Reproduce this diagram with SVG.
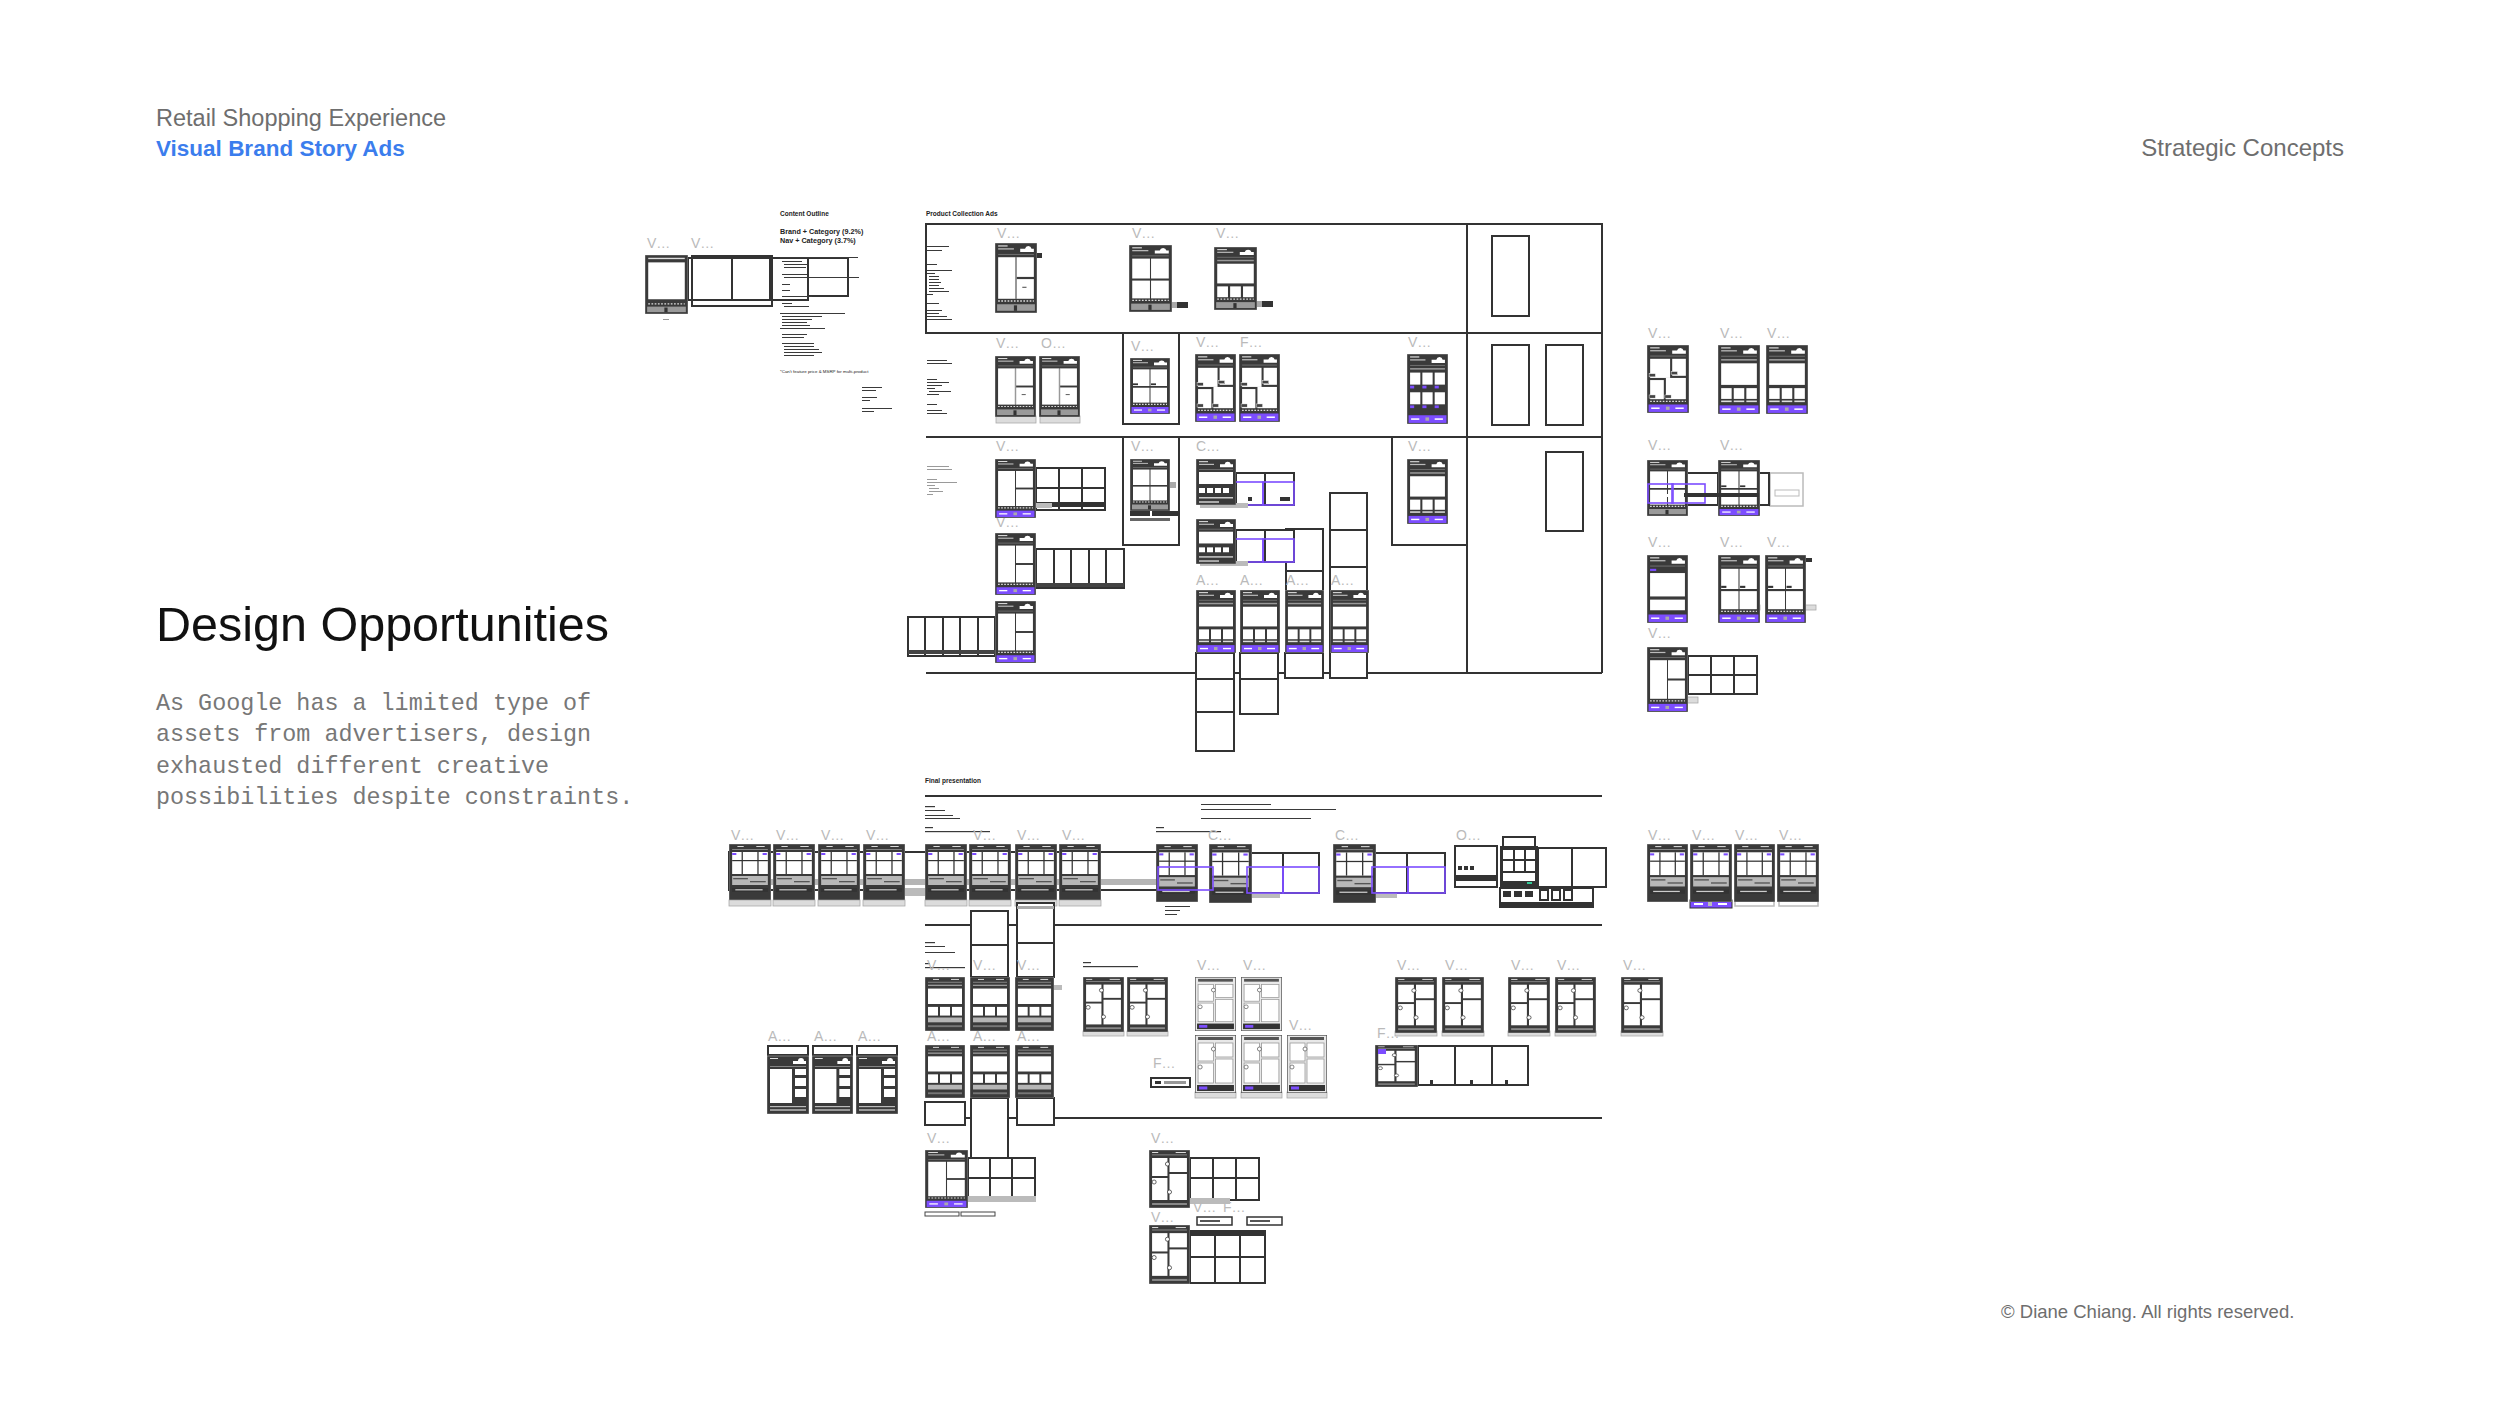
<svg xmlns="http://www.w3.org/2000/svg" width="2500" height="1406" viewBox="0 0 2500 1406">
<style>
text{font-family:"Liberation Sans",Arial,sans-serif}
.lb{font-size:14px;fill:#bababa}
.fr{fill:#fff;stroke:#333;stroke-width:2}
.fo{fill:none;stroke:#333;stroke-width:2}
.ln{stroke:#333;stroke-width:2;fill:none}
.pf{fill:none;stroke:#7c4dff;stroke-width:1.6}
.gb{fill:#dcdcdc;stroke:#aaa;stroke-width:.8}
.gf{fill:#fff;stroke:#bbb;stroke-width:1.5}
.tx{fill:#3a3a3a}
.tg{fill:#9a9a9a}
.pb{fill:#3a3a3a;stroke:#aaa;stroke-width:.6}
.w{fill:#fff}
.sm{font-weight:bold;fill:#222}
.mono{font-family:"Liberation Mono","DejaVu Sans Mono",monospace;font-size:23.4px;fill:#777}
</style>
<defs>
<g id="hd"><rect x="3" y="2.2" width="9" height="1" fill="#eee"/><rect x="3" y="4.8" width="15" height="1.2" fill="#bbb"/><path d="M24 8.2h13v-3h-2.2a3.2 3.2 0 0 0-6.2 0H24z" fill="#fff"/><rect x="3" y="10" width="34" height=".8" fill="#777"/></g>
<g id="ftP"><rect x="1.5" y="56" width="37" height="7" fill="#7c4dff"/><rect x="4" y="58.8" width="8" height="1.4" fill="#fff"/><rect x="18" y="58" width="3.5" height="3" fill="#aaa"/><rect x="27" y="58.8" width="8" height="1.4" fill="#fff"/></g>
<g id="ftG"><rect x="2" y="56" width="36" height="6" fill="#9a9a9a"/><rect x="18" y="57" width="3" height="5" fill="#333"/></g>
<g id="dots"><line x1="3" y1="53" x2="37" y2="53" stroke="#ddd" stroke-width="1.2" stroke-dasharray="1.6 1.4"/></g>
<symbol id="pGrid" viewBox="0 0 40 64" preserveAspectRatio="none"><rect class="pb" width="40" height="64"/><use href="#hd"/><rect class="w" x="3" y="13" width="16.5" height="19"/><rect class="w" x="20.5" y="13" width="16.5" height="19"/><rect class="w" x="3" y="34" width="16.5" height="17"/><rect class="w" x="20.5" y="34" width="16.5" height="17"/><use href="#dots"/><use href="#ftG"/></symbol>
<symbol id="pGridP" viewBox="0 0 40 64" preserveAspectRatio="none"><rect class="pb" width="40" height="64"/><use href="#hd"/><rect class="w" x="3" y="13" width="16.5" height="19"/><rect class="w" x="20.5" y="13" width="16.5" height="19"/><rect class="w" x="3" y="34" width="16.5" height="17"/><rect class="w" x="20.5" y="34" width="16.5" height="17"/><rect x="3" y="29" width="5" height="2" fill="#333"/><rect x="21" y="29" width="5" height="2" fill="#333"/><use href="#dots"/><use href="#ftP"/></symbol>
<symbol id="pTall" viewBox="0 0 40 64" preserveAspectRatio="none"><rect class="pb" width="40" height="64"/><use href="#hd"/><rect class="w" x="3" y="13" width="16.5" height="38"/><rect class="w" x="20.5" y="13" width="16.5" height="18"/><rect class="w" x="20.5" y="33" width="16.5" height="18"/><rect x="19.3" y="13" width="1.4" height="38" fill="#999"/><rect x="26" y="40" width="4" height="1" fill="#555"/><use href="#dots"/><use href="#ftG"/></symbol>
<symbol id="pTallP" viewBox="0 0 40 64" preserveAspectRatio="none"><rect class="pb" width="40" height="64"/><use href="#hd"/><rect class="w" x="3" y="13" width="16.5" height="38"/><rect class="w" x="20.5" y="13" width="16.5" height="18"/><rect class="w" x="20.5" y="33" width="16.5" height="18"/><use href="#dots"/><use href="#ftP"/></symbol>
<symbol id="pHero" viewBox="0 0 40 64" preserveAspectRatio="none"><rect class="pb" width="40" height="64"/><use href="#hd"/><rect x="3" y="13" width="34" height="1.5" fill="#999"/><rect class="w" x="3" y="17" width="34" height="20"/><rect class="w" x="3" y="40" width="10" height="11"/><rect class="w" x="15" y="40" width="10" height="11"/><rect class="w" x="27" y="40" width="10" height="11"/><use href="#dots"/><use href="#ftG"/></symbol>
<symbol id="pHeroP" viewBox="0 0 40 64" preserveAspectRatio="none"><rect class="pb" width="40" height="64"/><use href="#hd"/><rect x="3" y="13" width="34" height="1.5" fill="#999"/><rect class="w" x="3" y="17" width="34" height="20"/><rect class="w" x="3" y="40" width="10" height="10"/><rect class="w" x="15" y="40" width="10" height="10"/><rect class="w" x="27" y="40" width="10" height="10"/><rect x="3" y="51.5" width="10" height="1.5" fill="#ddd"/><rect x="15" y="51.5" width="10" height="1.5" fill="#ddd"/><rect x="27" y="51.5" width="10" height="1.5" fill="#ddd"/><use href="#ftP"/></symbol>
<symbol id="pMosP" viewBox="0 0 40 64" preserveAspectRatio="none"><rect class="pb" width="40" height="64"/><use href="#hd"/><rect class="w" x="3" y="13" width="19" height="18"/><rect class="w" x="24" y="13" width="13" height="16"/><rect class="w" x="3" y="33" width="13" height="18"/><rect class="w" x="18" y="31" width="19" height="20"/><rect x="2" y="27" width="6" height="3" fill="#444" stroke="#fff" stroke-width=".4"/><rect x="23" y="25" width="6" height="3" fill="#444" stroke="#fff" stroke-width=".4"/><rect x="2" y="47" width="6" height="3" fill="#444" stroke="#fff" stroke-width=".4"/><rect x="17" y="47" width="6" height="3" fill="#444" stroke="#fff" stroke-width=".4"/><use href="#dots"/><use href="#ftP"/></symbol>
<symbol id="p32P" viewBox="0 0 40 64" preserveAspectRatio="none"><rect class="pb" width="40" height="64"/><use href="#hd"/><rect x="3" y="13" width="34" height="1.2" fill="#aaa"/><rect class="w" x="3" y="17" width="10" height="11"/><rect class="w" x="15" y="17" width="10" height="11"/><rect class="w" x="27" y="17" width="10" height="11"/><rect x="3" y="29" width="4" height="2.5" fill="#7c4dff"/><rect x="15" y="29" width="4" height="2.5" fill="#7c4dff"/><rect x="27" y="29" width="4" height="2.5" fill="#7c4dff"/><rect class="w" x="3" y="35" width="10" height="11"/><rect class="w" x="15" y="35" width="10" height="11"/><rect class="w" x="27" y="35" width="10" height="11"/><rect x="3" y="47" width="4" height="2.5" fill="#7c4dff"/><rect x="15" y="47" width="4" height="2.5" fill="#7c4dff"/><rect x="27" y="47" width="4" height="2.5" fill="#7c4dff"/><use href="#ftP"/></symbol>
<symbol id="pPlainP" viewBox="0 0 40 64" preserveAspectRatio="none"><rect class="pb" width="40" height="64"/><use href="#hd"/><rect x="3" y="13" width="6" height="2" fill="#7c4dff"/><rect class="w" x="3" y="17" width="34" height="22"/><rect class="w" x="3" y="42" width="34" height="10"/><use href="#ftP"/></symbol>
<symbol id="pPlain" viewBox="0 0 40 64" preserveAspectRatio="none"><rect class="pb" width="40" height="64"/><rect x="3" y="3" width="34" height="1.5" fill="#ddd"/><rect class="w" x="3" y="8" width="34" height="40"/><use href="#dots"/><use href="#ftG"/></symbol>
<symbol id="pFP" viewBox="0 0 40 56" preserveAspectRatio="none"><rect class="pb" width="40" height="56"/><rect x="8" y="2" width="6" height="1" fill="#ddd"/><rect x="26" y="2" width="8" height="1" fill="#ddd"/><rect x="3" y="5" width="34" height=".8" fill="#999"/><rect class="w" x="3" y="8" width="34" height="22"/><rect x="3" y="9" width="4" height="2" fill="#7c4dff"/><rect x="32" y="9" width="4" height="2" fill="#7c4dff"/><rect x="3" y="16" width="34" height="1.2" fill="#333"/><rect x="12" y="8" width="1.2" height="22" fill="#333"/><rect x="27" y="8" width="1.2" height="22" fill="#333"/><rect x="3" y="32" width="34" height="9" fill="#b8b8b8"/><rect x="4" y="34" width="14" height="1.3" fill="#555"/><rect x="20" y="37" width="15" height="1.3" fill="#555"/><rect x="3" y="44" width="34" height="4" fill="#333"/><rect x="6" y="45.2" width="26" height="1.2" fill="#ccc"/></symbol>
<symbol id="pFP2" viewBox="0 0 40 56" preserveAspectRatio="none"><rect class="pb" width="40" height="56"/><rect x="8" y="2" width="6" height="1" fill="#ddd"/><rect x="26" y="2" width="8" height="1" fill="#ddd"/><rect x="3" y="5" width="34" height=".8" fill="#999"/><rect x="3" y="8" width="34" height="1.2" fill="#aaa"/><rect class="w" x="3" y="12" width="34" height="16"/><rect class="w" x="3" y="31" width="10" height="9"/><rect class="w" x="15" y="31" width="10" height="9"/><rect class="w" x="27" y="31" width="10" height="9"/><rect x="3" y="42" width="34" height="5" fill="#b5b5b5"/><rect x="3" y="50" width="34" height="2" fill="#777"/></symbol>
<symbol id="pMag" viewBox="0 0 40 58" preserveAspectRatio="none"><rect class="pb" width="40" height="58"/><rect x="3" y="2" width="6" height="1" fill="#ddd"/><rect x="26" y="2" width="10" height="1" fill="#ddd"/><rect x="3" y="4.5" width="34" height=".8" fill="#999"/><rect class="w" x="3" y="8" width="15" height="18"/><rect class="w" x="20" y="8" width="17" height="14"/><rect class="w" x="3" y="28" width="15" height="22"/><rect class="w" x="20" y="24" width="17" height="26"/><circle cx="18" cy="14" r="2" fill="#fff" stroke="#444" stroke-width=".8"/><circle cx="5" cy="32" r="2" fill="#fff" stroke="#444" stroke-width=".8"/><circle cx="20" cy="42" r="2" fill="#fff" stroke="#444" stroke-width=".8"/><rect x="3" y="53" width="34" height="2" fill="#888"/></symbol>
<symbol id="pMagL" viewBox="0 0 40 58" preserveAspectRatio="none"><rect width="40" height="58" fill="#e8e8e8" stroke="#555" stroke-width="1.4"/><rect x="3" y="2" width="34" height="3" fill="#555"/><rect class="w" x="3" y="8" width="15" height="18" stroke="#999" stroke-width=".8"/><rect class="w" x="20" y="8" width="17" height="14" stroke="#999" stroke-width=".8"/><rect class="w" x="3" y="28" width="15" height="20" stroke="#999" stroke-width=".8"/><rect class="w" x="20" y="24" width="17" height="24" stroke="#999" stroke-width=".8"/><circle cx="18" cy="14" r="2" fill="#fff" stroke="#666" stroke-width=".8"/><circle cx="5" cy="32" r="2" fill="#fff" stroke="#666" stroke-width=".8"/><rect x="2" y="50" width="36" height="6" fill="#333"/><rect x="4" y="51.5" width="8" height="3" fill="#7c4dff"/></symbol>
<symbol id="pA" viewBox="0 0 42 69" preserveAspectRatio="none"><rect x="1" y="1" width="40" height="9" fill="#fff" stroke="#333" stroke-width="2"/><rect class="pb" y="11" width="42" height="58"/><rect x="3" y="13" width="8" height="1" fill="#ddd"/><path d="M26 19h13v-3h-2a3 3 0 0 0-6 0h-5z" fill="#fff"/><rect x="3" y="21" width="36" height=".8" fill="#999"/><rect class="w" x="3" y="24" width="22" height="34"/><rect class="w" x="28" y="24" width="11" height="6"/><rect class="w" x="28" y="33" width="11" height="8"/><rect class="w" x="28" y="44" width="11" height="8"/><rect x="3" y="61" width="36" height="1.2" fill="#bbb"/><rect x="3" y="64" width="36" height="2" fill="#999"/></symbol>
<symbol id="pShort" viewBox="0 0 40 46" preserveAspectRatio="none"><rect class="pb" width="40" height="46"/><use href="#hd"/><rect class="w" x="3" y="13" width="34" height="12"/><rect class="w" x="3" y="29" width="6" height="5"/><rect class="w" x="11" y="29" width="6" height="5"/><rect class="w" x="19" y="29" width="6" height="5"/><rect class="w" x="27" y="29" width="6" height="5"/><rect x="3" y="38" width="34" height="1.5" fill="#ccc"/><rect x="3" y="42" width="20" height="2" fill="#aaa"/></symbol>
</defs>

<rect width="2500" height="1406" fill="#fff"/>

<g id="titles">
<text x="156" y="126" font-size="23.5" fill="#6e6e6e">Retail Shopping Experience</text>
<text x="156" y="156" font-size="22.5" font-weight="bold" fill="#3b7ded">Visual Brand Story Ads</text>
<text x="2344" y="156" font-size="24" fill="#6e6e6e" text-anchor="end">Strategic Concepts</text>
<text x="156" y="641" font-size="48.5" fill="#111">Design Opportunities</text>
<text class="mono" x="156" y="710">As Google has a limited type of</text>
<text class="mono" x="156" y="741">assets from advertisers, design</text>
<text class="mono" x="156" y="773">exhausted different creative</text>
<text class="mono" x="156" y="804">possibilities despite constraints.</text>
<text x="2001" y="1318" font-size="18.5" fill="#6e6e6e">© Diane Chiang. All rights reserved.</text>
</g>

<g id="connectors">
<rect class="fo" x="926" y="224" width="676" height="109"/>
<line class="ln" x1="926" y1="437" x2="1602" y2="437"/>
<line class="ln" x1="926" y1="673" x2="1602" y2="673"/>
<line class="ln" x1="1467" y1="224" x2="1467" y2="673"/>
<line class="ln" x1="1602" y1="224" x2="1602" y2="673"/>
<line class="ln" x1="925" y1="796" x2="1602" y2="796"/>
<line class="ln" x1="925" y1="925" x2="1602" y2="925"/>
<line class="ln" x1="925" y1="1118" x2="1602" y2="1118"/>
</g>

<g id="left-cluster">
<text class="lb" x="647" y="248">V…</text><text class="lb" x="691" y="248">V…</text>
<rect class="fr" x="688" y="258" width="44" height="42"/><rect class="fr" x="732" y="258" width="38" height="42"/><rect class="fr" x="770" y="258" width="38" height="42"/><rect class="fr" x="808" y="258" width="40" height="38"/>
<rect class="fo" x="692" y="256" width="80" height="50" stroke-width="1.5"/>
<use href="#pPlain" x="645" y="255" width="43" height="59"/>
<rect x="663" y="319" width="6" height="1" fill="#999"/>
</g>

<g id="content-outline">
<text class="sm" x="780" y="216" font-size="6.5">Content Outline</text>
<text class="sm" x="780" y="234" font-size="7.2">Brand + Category (9.2%)</text>
<text class="sm" x="780" y="243" font-size="7.2">Nav + Category (3.7%)</text>
<g class="tx">
<rect x="780" y="257" width="78" height="1"/><rect x="782" y="261" width="20" height="1"/><rect x="784" y="264" width="25" height="1"/><rect x="784" y="267" width="22" height="1"/>
<rect x="782" y="274" width="25" height="1"/><rect x="784" y="277" width="75" height="1"/><rect x="782" y="284" width="8" height="1"/><rect x="782" y="290" width="8" height="1"/>
<rect x="782" y="296" width="30" height="1"/><rect x="782" y="303" width="10" height="1"/><rect x="784" y="306" width="25" height="1"/>
<rect x="780" y="313" width="65" height="1"/><rect x="782" y="316" width="40" height="1"/><rect x="782" y="319" width="30" height="1"/><rect x="782" y="322" width="25" height="1"/><rect x="782" y="325" width="28" height="1"/><rect x="780" y="328" width="45" height="1"/>
<rect x="782" y="334" width="25" height="1"/><rect x="782" y="337" width="22" height="1"/>
<rect x="782" y="343" width="32" height="1"/><rect x="784" y="346" width="30" height="1"/><rect x="784" y="349" width="35" height="1"/><rect x="784" y="352" width="38" height="1"/><rect x="784" y="355" width="30" height="1"/>
<rect x="862" y="387" width="20" height="1"/><rect x="862" y="390" width="14" height="1"/><rect x="862" y="397" width="15" height="1"/><rect x="862" y="400" width="8" height="1"/><rect x="862" y="408" width="30" height="1"/><rect x="862" y="411" width="12" height="1"/>
</g>
<text x="780" y="373" font-size="4.4" fill="#222">*Can't feature price &amp; MSRP for multi-product</text>
</g>

<g id="product-collection">
<text class="sm" x="926" y="216" font-size="6.5">Product Collection Ads</text>
<rect class="fo" x="1123" y="333" width="56" height="91"/>
<rect class="fo" x="1123" y="437" width="56" height="108"/>
<rect class="fo" x="1392" y="437" width="75" height="108"/>
<rect class="fo" x="1492" y="236" width="37" height="80"/>
<rect class="fo" x="1492" y="345" width="37" height="80"/>
<rect class="fo" x="1546" y="345" width="37" height="80"/>
<rect class="fo" x="1546" y="452" width="37" height="79"/>
<g class="tx">
<rect x="927" y="246" width="22" height="1"/><rect x="927" y="250" width="15" height="1"/><rect x="927" y="264" width="10" height="1"/><rect x="927" y="270" width="25" height="1"/><rect x="927" y="273" width="8" height="1"/><rect x="929" y="276" width="10" height="1"/><rect x="929" y="279" width="10" height="1"/><rect x="929" y="282" width="12" height="1"/><rect x="929" y="285" width="10" height="1"/><rect x="929" y="288" width="15" height="1"/><rect x="929" y="291" width="20" height="1"/><rect x="927" y="294" width="6" height="1"/>
<rect x="927" y="303" width="12" height="1"/><rect x="927" y="310" width="15" height="1"/><rect x="927" y="313" width="12" height="1"/><rect x="927" y="316" width="20" height="1"/><rect x="927" y="319" width="25" height="1"/>
<rect x="927" y="360" width="20" height="1"/><rect x="927" y="363" width="25" height="1"/><rect x="927" y="379" width="10" height="1"/><rect x="927" y="382" width="22" height="1"/><rect x="927" y="385" width="15" height="1"/><rect x="927" y="388" width="8" height="1"/><rect x="929" y="391" width="22" height="1"/><rect x="927" y="394" width="12" height="1"/><rect x="927" y="404" width="10" height="1"/><rect x="927" y="410" width="15" height="1"/><rect x="927" y="413" width="20" height="1"/>
</g>
<g class="tg">
<rect x="927" y="466" width="22" height="1"/><rect x="927" y="469" width="25" height="1"/><rect x="927" y="479" width="10" height="1"/><rect x="927" y="482" width="30" height="1"/><rect x="927" y="485" width="8" height="1"/><rect x="929" y="488" width="10" height="1"/><rect x="929" y="491" width="14" height="1"/><rect x="927" y="494" width="6" height="1"/>
</g>
</g>

<g id="pc-row1">
<text class="lb" x="997" y="238">V…</text><text class="lb" x="1132" y="238">V…</text><text class="lb" x="1216" y="238">V…</text>
<rect x="1035" y="253" width="7" height="5" fill="#333"/>
<use href="#pTall" x="995" y="243" width="42" height="70"/>
<rect x="1165" y="302" width="23" height="6" fill="#333"/><rect x="1165" y="302" width="12" height="6" fill="#aaa"/>
<use href="#pGrid" x="1129" y="245" width="43" height="67"/>
<rect x="1250" y="301" width="23" height="6" fill="#333"/><rect x="1250" y="301" width="12" height="6" fill="#aaa"/>
<use href="#pHero" x="1214" y="247" width="43" height="63"/>
</g>

<g id="pc-row2">
<text class="lb" x="996" y="348">V…</text><text class="lb" x="1041" y="348">O…</text><text class="lb" x="1131" y="351">V…</text><text class="lb" x="1196" y="347">V…</text><text class="lb" x="1240" y="347">F…</text><text class="lb" x="1408" y="347">V…</text>
<rect class="gb" x="996" y="416" width="40" height="7"/><rect class="gb" x="1040" y="416" width="40" height="7"/>
<use href="#pTall" x="995" y="356" width="41" height="61"/>
<use href="#pTall" x="1039" y="356" width="41" height="61"/>
<use href="#pGridP" x="1130" y="358" width="40" height="56"/>
<use href="#pMosP" x="1195" y="354" width="41" height="68"/>
<use href="#pMosP" x="1239" y="354" width="41" height="68"/>
<use href="#p32P" x="1407" y="354" width="41" height="70"/>
</g>

<g id="pc-row3">
<text class="lb" x="996" y="451">V…</text><text class="lb" x="996" y="527">V…</text><text class="lb" x="1131" y="451">V…</text><text class="lb" x="1196" y="451">C…</text><text class="lb" x="1408" y="451">V…</text>
<rect class="fr" x="1036" y="468" width="23" height="42"/><rect class="fr" x="1059" y="468" width="23" height="42"/><rect class="fr" x="1082" y="468" width="23" height="42"/>
<line class="ln" x1="1036" y1="488" x2="1105" y2="488" stroke-width="1.5"/>
<rect x="1036" y="502" width="70" height="5" fill="#333"/><rect x="1034" y="503" width="18" height="5" fill="#bbb"/>
<use href="#pTallP" x="995" y="459" width="41" height="59"/>
<rect class="fr" x="1036" y="549" width="18" height="39"/><rect class="fr" x="1054" y="549" width="17" height="39"/><rect class="fr" x="1071" y="549" width="18" height="39"/><rect class="fr" x="1089" y="549" width="17" height="39"/><rect class="fr" x="1106" y="549" width="18" height="39"/>
<rect x="1036" y="583" width="88" height="4" fill="#444"/>
<use href="#pTallP" x="995" y="533" width="41" height="62"/>
<rect class="fr" x="908" y="617" width="17" height="39"/><rect class="fr" x="925" y="617" width="18" height="39"/><rect class="fr" x="943" y="617" width="17" height="39"/><rect class="fr" x="960" y="617" width="18" height="39"/><rect class="fr" x="978" y="617" width="17" height="39"/>
<rect x="908" y="650" width="87" height="4" fill="#444"/>
<use href="#pTallP" x="995" y="601" width="41" height="62"/>
<rect x="1160" y="482" width="16" height="6" fill="#aaa"/>
<use href="#pGrid" x="1130" y="459" width="40" height="52"/>
<rect x="1130" y="511" width="20" height="5" fill="#333"/><rect x="1152" y="511" width="26" height="5" fill="#333"/><rect x="1130" y="518" width="40" height="3" fill="#666"/>
<rect class="fr" x="1236" y="473" width="29" height="32"/><rect class="fr" x="1265" y="473" width="29" height="32"/>
<rect class="pf" x="1232" y="482" width="31" height="23"/><rect class="pf" x="1263" y="482" width="31" height="23"/>
<rect x="1248" y="497" width="4" height="4" fill="#333"/><rect x="1280" y="497" width="10" height="4" fill="#333"/>
<rect x="1200" y="503" width="48" height="5" fill="#bbb"/>
<use href="#pShort" x="1196" y="459" width="40" height="46"/>
<rect class="fr" x="1286" y="529" width="37" height="42"/><rect class="fr" x="1286" y="571" width="37" height="106"/>
<rect class="fr" x="1236" y="530" width="29" height="32"/><rect class="fr" x="1265" y="530" width="29" height="32"/>
<rect class="pf" x="1232" y="539" width="31" height="23"/><rect class="pf" x="1263" y="539" width="31" height="23"/>
<rect x="1200" y="561" width="48" height="5" fill="#bbb"/>
<use href="#pShort" x="1196" y="519" width="40" height="45"/>
<rect class="fr" x="1330" y="493" width="37" height="37"/><rect class="fr" x="1330" y="530" width="37" height="37"/><rect class="fr" x="1330" y="567" width="37" height="111"/>
<rect class="fr" x="1196" y="653" width="38" height="26"/><rect class="fr" x="1196" y="679" width="38" height="33"/><rect class="fr" x="1196" y="712" width="38" height="39"/>
<rect class="fr" x="1240" y="653" width="38" height="26"/><rect class="fr" x="1240" y="679" width="38" height="35"/>
<rect class="fr" x="1285" y="653" width="38" height="25"/>
<text class="lb" x="1196" y="585">A…</text><text class="lb" x="1240" y="585">A…</text><text class="lb" x="1286" y="585">A…</text><text class="lb" x="1331" y="585">A…</text>
<use href="#pHeroP" x="1196" y="590" width="40" height="63"/>
<use href="#pHeroP" x="1240" y="590" width="40" height="63"/>
<use href="#pHeroP" x="1285" y="590" width="39" height="63"/>
<use href="#pHeroP" x="1330" y="590" width="39" height="63"/>
<use href="#pHeroP" x="1407" y="459" width="41" height="65"/>
</g>

<g id="right-column">
<text class="lb" x="1648" y="338">V…</text><text class="lb" x="1720" y="338">V…</text><text class="lb" x="1767" y="338">V…</text>
<use href="#pMosP" x="1647" y="345" width="42" height="68"/>
<use href="#pHeroP" x="1718" y="345" width="42" height="69"/>
<use href="#pHeroP" x="1766" y="345" width="42" height="69"/>
<text class="lb" x="1648" y="450">V…</text><text class="lb" x="1720" y="450">V…</text>
<rect class="gf" x="1770" y="473" width="33" height="33"/><rect x="1775" y="490" width="24" height="6" fill="#fff" stroke="#bbb"/>
<rect class="fr" x="1686" y="473" width="32" height="32"/><rect class="fr" x="1757" y="473" width="12" height="32"/>
<use href="#pGrid" x="1647" y="460" width="41" height="56"/>
<use href="#pGridP" x="1718" y="460" width="42" height="56"/>
<rect class="pf" x="1648" y="484" width="25" height="19"/><rect class="pf" x="1672" y="484" width="33" height="19"/>
<rect x="1652" y="494" width="3" height="3" fill="#fff"/><rect x="1657" y="494" width="3" height="3" fill="#fff"/><rect x="1662" y="494" width="3" height="3" fill="#fff"/><rect x="1667" y="494" width="3" height="3" fill="#fff"/>
<rect x="1684" y="493" width="75" height="4" fill="#333"/>
<text class="lb" x="1648" y="547">V…</text><text class="lb" x="1720" y="547">V…</text><text class="lb" x="1767" y="547">V…</text>
<rect x="1800" y="558" width="12" height="4" fill="#333"/>
<rect class="gb" x="1720" y="605" width="40" height="5"/><rect class="gb" x="1770" y="605" width="46" height="5"/>
<use href="#pPlainP" x="1647" y="555" width="41" height="68"/>
<use href="#pGridP" x="1718" y="555" width="42" height="68"/>
<use href="#pGridP" x="1765" y="555" width="41" height="68"/>
<text class="lb" x="1648" y="638">V…</text>
<rect class="fr" x="1688" y="656" width="23" height="38"/><rect class="fr" x="1711" y="656" width="23" height="38"/><rect class="fr" x="1734" y="656" width="23" height="38"/>
<line class="ln" x1="1688" y1="675" x2="1757" y2="675" stroke-width="1.5"/>
<rect class="gb" x="1686" y="697" width="12" height="6"/>
<use href="#pTallP" x="1647" y="647" width="41" height="65"/>
</g>

<g id="final-presentation">
<text class="sm" x="925" y="783" font-size="6.5">Final presentation</text>
<g class="tx">
<rect x="925" y="806" width="10" height="1.2"/><rect x="925" y="810" width="20" height="1"/><rect x="925" y="815" width="28" height="1"/><rect x="925" y="818" width="35" height="1"/>
<rect x="925" y="827" width="8" height="1.2"/><rect x="925" y="831" width="65" height="1.2"/>
<rect x="1156" y="827" width="8" height="1.2"/><rect x="1156" y="831" width="65" height="1.2"/>
<rect x="1201" y="804" width="70" height="1"/><rect x="1201" y="809" width="135" height="1"/><rect x="1201" y="818" width="110" height="1"/>
<rect x="1165" y="906" width="25" height="1"/><rect x="1165" y="910" width="15" height="1"/><rect x="1165" y="914" width="12" height="1"/>
</g>
<rect class="fo" x="729" y="852" width="432" height="38"/>
<rect x="729" y="879" width="432" height="6" fill="#b5b5b5"/>
<text class="lb" x="731" y="840">V…</text><text class="lb" x="776" y="840">V…</text><text class="lb" x="821" y="840">V…</text><text class="lb" x="866" y="840">V…</text><text class="lb" x="973" y="840">V…</text><text class="lb" x="1017" y="840">V…</text><text class="lb" x="1062" y="840">V…</text>
<rect class="gb" x="729" y="900" width="42" height="6"/><rect class="gb" x="773" y="900" width="42" height="6"/><rect class="gb" x="818" y="900" width="42" height="6"/><rect class="gb" x="863" y="900" width="42" height="6"/><rect class="gb" x="925" y="900" width="42" height="6"/><rect class="gb" x="969" y="900" width="42" height="6"/><rect class="gb" x="1015" y="900" width="42" height="6"/><rect class="gb" x="1059" y="900" width="42" height="6"/>
<rect x="905" y="888" width="22" height="8" fill="#bbb"/>
<use href="#pFP" x="729" y="844" width="42" height="56"/>
<use href="#pFP" x="773" y="844" width="42" height="56"/>
<use href="#pFP" x="818" y="844" width="42" height="56"/>
<use href="#pFP" x="863" y="844" width="42" height="56"/>
<use href="#pFP" x="925" y="844" width="42" height="56"/>
<use href="#pFP" x="969" y="844" width="42" height="56"/>
<use href="#pFP" x="1015" y="844" width="42" height="56"/>
<use href="#pFP" x="1059" y="844" width="42" height="56"/>
<text class="lb" x="1208" y="840">C…</text><text class="lb" x="1335" y="840">C…</text><text class="lb" x="1456" y="840">O…</text>
<rect class="fr" x="1247" y="853" width="36" height="40"/><rect class="fr" x="1283" y="853" width="36" height="40"/>
<rect x="1215" y="893" width="65" height="5" fill="#bbb"/>
<use href="#pFP" x="1156" y="844" width="42" height="58"/>
<use href="#pFP" x="1209" y="844" width="43" height="59"/>
<rect class="pf" x="1158" y="867" width="55" height="23"/>
<rect class="pf" x="1247" y="867" width="36" height="26"/><rect class="pf" x="1283" y="867" width="36" height="26"/>
<rect class="fr" x="1370" y="853" width="37" height="40"/><rect class="fr" x="1407" y="853" width="38" height="40"/>
<rect x="1337" y="893" width="60" height="5" fill="#bbb"/>
<use href="#pFP" x="1333" y="844" width="43" height="59"/>
<rect class="pf" x="1372" y="867" width="36" height="26"/><rect class="pf" x="1408" y="867" width="37" height="26"/>
<rect class="fr" x="1455" y="846" width="42" height="41"/><rect x="1455" y="875" width="42" height="6" fill="#333"/><rect x="1458" y="866" width="4" height="4" fill="#333"/><rect x="1464" y="866" width="4" height="4" fill="#333"/><rect x="1470" y="866" width="4" height="4" fill="#333"/>
<rect class="fr" x="1538" y="848" width="34" height="39"/><rect class="fr" x="1572" y="848" width="34" height="39"/>
<rect class="fr" x="1503" y="837" width="32" height="10"/>
<rect x="1500" y="846" width="38" height="61" fill="#333"/>
<rect class="w" x="1503" y="850" width="10" height="9"/><rect class="w" x="1515" y="850" width="9" height="9"/><rect class="w" x="1526" y="850" width="9" height="9"/><rect class="w" x="1503" y="861" width="10" height="10"/><rect class="w" x="1515" y="861" width="9" height="10"/><rect class="w" x="1526" y="861" width="9" height="10"/><rect class="w" x="1503" y="873" width="32" height="8"/>
<rect x="1500" y="888" width="93" height="19" fill="#fff" stroke="#333" stroke-width="2"/>
<rect x="1503" y="891" width="8" height="6" fill="#333"/><rect x="1514" y="891" width="8" height="6" fill="#333"/><rect x="1525" y="891" width="8" height="6" fill="#333"/><rect class="fo" x="1540" y="890" width="8" height="10" stroke-width="1.5"/><rect class="fo" x="1552" y="890" width="8" height="10" stroke-width="1.5"/><rect class="fo" x="1564" y="890" width="8" height="10" stroke-width="1.5"/><rect x="1500" y="902" width="93" height="5" fill="#333"/>
<rect x="1527" y="882" width="5" height="2" fill="#3c9"/>
<text class="lb" x="1648" y="840">V…</text><text class="lb" x="1692" y="840">V…</text><text class="lb" x="1735" y="840">V…</text><text class="lb" x="1779" y="840">V…</text>
<rect x="1690" y="900" width="42" height="8" fill="#7c4dff" stroke="#333"/><rect x="1694" y="903" width="9" height="2" fill="#fff"/><rect x="1708" y="902" width="4" height="4" fill="#bbb"/><rect x="1718" y="903" width="9" height="2" fill="#fff"/>
<rect class="gf" x="1735" y="900" width="39" height="6"/><rect class="gf" x="1779" y="900" width="39" height="6"/>
<use href="#pFP" x="1647" y="844" width="41" height="58"/>
<use href="#pFP" x="1690" y="844" width="42" height="58"/>
<use href="#pFP" x="1734" y="844" width="41" height="58"/>
<use href="#pFP" x="1777" y="844" width="42" height="58"/>
</g>

<g id="concept-b">
<g class="tx">
<rect x="925" y="942" width="10" height="1.2"/><rect x="925" y="946" width="20" height="1"/><rect x="925" y="952" width="30" height="1"/>
<rect x="925" y="963" width="5" height="1.2"/><rect x="925" y="967" width="40" height="1.2"/>
<rect x="1083" y="962" width="8" height="1.2"/><rect x="1083" y="966" width="55" height="1.2"/>
</g>
<rect class="fr" x="971" y="911" width="37" height="34"/><rect class="fr" x="971" y="945" width="37" height="32"/><rect class="fr" x="971" y="1098" width="37" height="95"/>
<rect class="fr" x="1017" y="903" width="37" height="40"/><rect class="fr" x="1017" y="943" width="37" height="34"/><rect class="fr" x="1017" y="1098" width="37" height="27"/>
<rect class="fr" x="925" y="1102" width="40" height="23"/>
<rect x="1017" y="906" width="37" height="3" fill="#aaa"/>
<text class="lb" x="927" y="970">V…</text><text class="lb" x="973" y="970">V…</text><text class="lb" x="1017" y="970">V…</text>
<rect x="1052" y="985" width="10" height="5" fill="#bbb"/>
<use href="#pFP2" x="925" y="977" width="40" height="54"/>
<use href="#pFP2" x="970" y="977" width="40" height="54"/>
<use href="#pFP2" x="1015" y="977" width="39" height="54"/>
<text class="lb" x="927" y="1041">A…</text><text class="lb" x="973" y="1041">A…</text><text class="lb" x="1017" y="1041">A…</text>
<use href="#pFP2" x="925" y="1045" width="40" height="53"/>
<use href="#pFP2" x="970" y="1045" width="40" height="53"/>
<use href="#pFP2" x="1015" y="1045" width="39" height="53"/>
<text class="lb" x="768" y="1041">A…</text><text class="lb" x="814" y="1041">A…</text><text class="lb" x="858" y="1041">A…</text>
<use href="#pA" x="767" y="1045" width="42" height="69"/>
<use href="#pA" x="812" y="1045" width="41" height="69"/>
<use href="#pA" x="856" y="1045" width="42" height="69"/>
<rect class="gb" x="1083" y="1031" width="41" height="5"/><rect class="gb" x="1127" y="1031" width="41" height="5"/>
<use href="#pMag" x="1083" y="977" width="41" height="55"/>
<use href="#pMag" x="1127" y="977" width="41" height="55"/>
<text class="lb" x="1197" y="970">V…</text><text class="lb" x="1243" y="970">V…</text><text class="lb" x="1289" y="1030">V…</text>
<use href="#pMagL" x="1195" y="977" width="41" height="54"/>
<use href="#pMagL" x="1241" y="977" width="41" height="54"/>
<rect class="gb" x="1195" y="1092" width="41" height="6"/><rect class="gb" x="1241" y="1092" width="41" height="6"/><rect class="gb" x="1287" y="1092" width="40" height="6"/>
<use href="#pMagL" x="1195" y="1035" width="41" height="58"/>
<use href="#pMagL" x="1241" y="1035" width="41" height="58"/>
<use href="#pMagL" x="1287" y="1035" width="40" height="58"/>
<text class="lb" x="1153" y="1068">F…</text>
<rect x="1151" y="1078" width="39" height="9" fill="#fff" stroke="#333" stroke-width="2"/><rect x="1155" y="1081" width="6" height="3" fill="#333"/><rect x="1164" y="1081" width="22" height="3" fill="#999"/>
<text class="lb" x="1397" y="970">V…</text><text class="lb" x="1445" y="970">V…</text><text class="lb" x="1511" y="970">V…</text><text class="lb" x="1557" y="970">V…</text><text class="lb" x="1623" y="970">V…</text>
<rect class="gb" x="1395" y="1031" width="42" height="5"/><rect class="gb" x="1442" y="1031" width="42" height="5"/><rect class="gb" x="1508" y="1031" width="42" height="5"/><rect class="gb" x="1555" y="1031" width="41" height="5"/><rect class="gb" x="1621" y="1031" width="42" height="5"/>
<use href="#pMag" x="1395" y="977" width="42" height="56"/>
<use href="#pMag" x="1442" y="977" width="42" height="56"/>
<use href="#pMag" x="1508" y="977" width="42" height="56"/>
<use href="#pMag" x="1555" y="977" width="41" height="56"/>
<use href="#pMag" x="1621" y="977" width="42" height="56"/>
<text class="lb" x="1377" y="1038">F…</text>
<rect class="fr" x="1418" y="1046" width="37" height="39"/><rect class="fr" x="1455" y="1046" width="37" height="39"/><rect class="fr" x="1492" y="1046" width="36" height="39"/>
<rect x="1430" y="1080" width="3" height="4" fill="#333"/><rect x="1470" y="1080" width="3" height="4" fill="#333"/><rect x="1505" y="1080" width="3" height="4" fill="#333"/>
<use href="#pMag" x="1375" y="1045" width="43" height="42"/>
<rect x="1378" y="1049" width="8" height="5" fill="#7c4dff"/>
</g>

<g id="bottom">
<text class="lb" x="927" y="1143">V…</text>
<rect class="fr" x="968" y="1158" width="22" height="42"/><rect class="fr" x="990" y="1158" width="22" height="42"/><rect class="fr" x="1012" y="1158" width="23" height="42"/>
<line class="ln" x1="968" y1="1178" x2="1035" y2="1178" stroke-width="1.5"/>
<rect x="966" y="1196" width="70" height="6" fill="#bbb"/>
<use href="#pTallP" x="925" y="1150" width="43" height="58"/>
<rect x="925" y="1212" width="34" height="4" fill="#fff" stroke="#444"/><rect x="961" y="1212" width="34" height="4" fill="#fff" stroke="#444"/>
<text class="lb" x="1151" y="1143">V…</text>
<rect class="fr" x="1190" y="1158" width="23" height="42"/><rect class="fr" x="1213" y="1158" width="23" height="42"/><rect class="fr" x="1236" y="1158" width="23" height="42"/>
<line class="ln" x1="1190" y1="1178" x2="1259" y2="1178" stroke-width="1.5"/>
<rect x="1150" y="1198" width="80" height="6" fill="#bbb"/>
<use href="#pMag" x="1149" y="1150" width="41" height="58"/>
<rect x="1197" y="1217" width="35" height="8" fill="#fff" stroke="#333" stroke-width="1.5"/><rect x="1200" y="1220" width="20" height="2" fill="#555"/>
<rect x="1247" y="1217" width="35" height="8" fill="#fff" stroke="#333" stroke-width="1.5"/><rect x="1250" y="1220" width="20" height="2" fill="#555"/>
<text class="lb" x="1151" y="1222">V…</text><text class="lb" x="1193" y="1212">V…</text><text class="lb" x="1223" y="1212">F…</text>
<rect class="fr" x="1190" y="1231" width="25" height="52"/><rect class="fr" x="1215" y="1231" width="25" height="52"/><rect class="fr" x="1240" y="1231" width="25" height="52"/>
<rect x="1190" y="1230" width="75" height="6" fill="#333"/>
<line class="ln" x1="1190" y1="1257" x2="1265" y2="1257" stroke-width="1.5"/>
<use href="#pMag" x="1149" y="1225" width="41" height="59"/>
</g>
</svg>
